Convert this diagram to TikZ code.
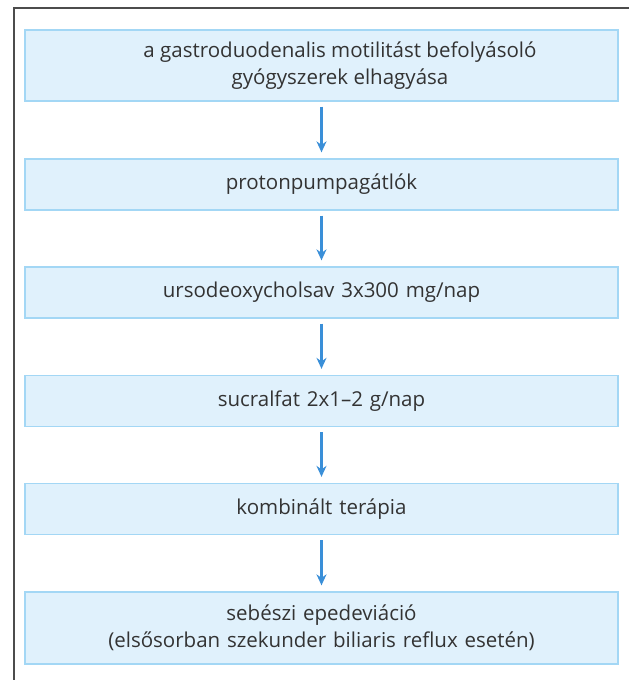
\documentclass[tikz,border=0pt]{standalone}
\usepackage{fontspec}
\setmainfont{Open Sans}
\usetikzlibrary{arrows.meta}
\definecolor{boxfill}{HTML}{E0F1FC}
\definecolor{boxline}{HTML}{A3D7F5}
\definecolor{arrowc}{HTML}{3A8FD8}
\definecolor{txt}{HTML}{333333}
\begin{document}
\begin{tikzpicture}[x=1pt,y=-1pt,
  stepbox/.style={draw=boxline,fill=boxfill,line width=1.3pt,minimum width=593pt,
    text width=580pt,align=center,inner sep=0pt,text=txt,
    font=\fontsize{20.5}{27}\selectfont},
  steptext/.style={align=center,inner sep=0pt,text=txt,
    font=\fontsize{20.5}{27}\selectfont},
  flow/.style={draw=arrowc,line width=2.2pt,-{Stealth[length=11pt,width=10pt]}}]
\useasboundingbox (0,0) rectangle (629,680);
\draw[black!70,line width=1.4pt] (629,8) -- (14,8) -- (14,680);
\node[stepbox,minimum height=71pt] (b1) at (321.5,65.5) {};
\node[steptext] (b1t) at (340,66) {a gastroduodenalis motilitást befolyásoló\\gyógyszerek elhagyása};
\node[stepbox,minimum height=51pt] (b2) at (321.5,184.5) {protonpumpagátlók};
\node[stepbox,minimum height=51pt] (b3) at (321.5,292.5) {ursodeoxycholsav 3x300 mg/nap};
\node[stepbox,minimum height=51pt] (b4) at (321.5,401) {sucralfat 2x1–2 g/nap};
\node[stepbox,minimum height=51pt] (b5) at (321.5,509) {kombinált terápia};
\node[stepbox,minimum height=72pt] (b6) at (321.5,628) {sebészi epedeviáció\\(elsősorban szekunder biliaris reflux esetén)};
\foreach \a/\b in {b1/b2,b2/b3,b3/b4,b4/b5,b5/b6}
  \draw[flow] ([yshift=-5pt]\a.south) -- ([yshift=6pt]\b.north);
\end{tikzpicture}
\end{document}
